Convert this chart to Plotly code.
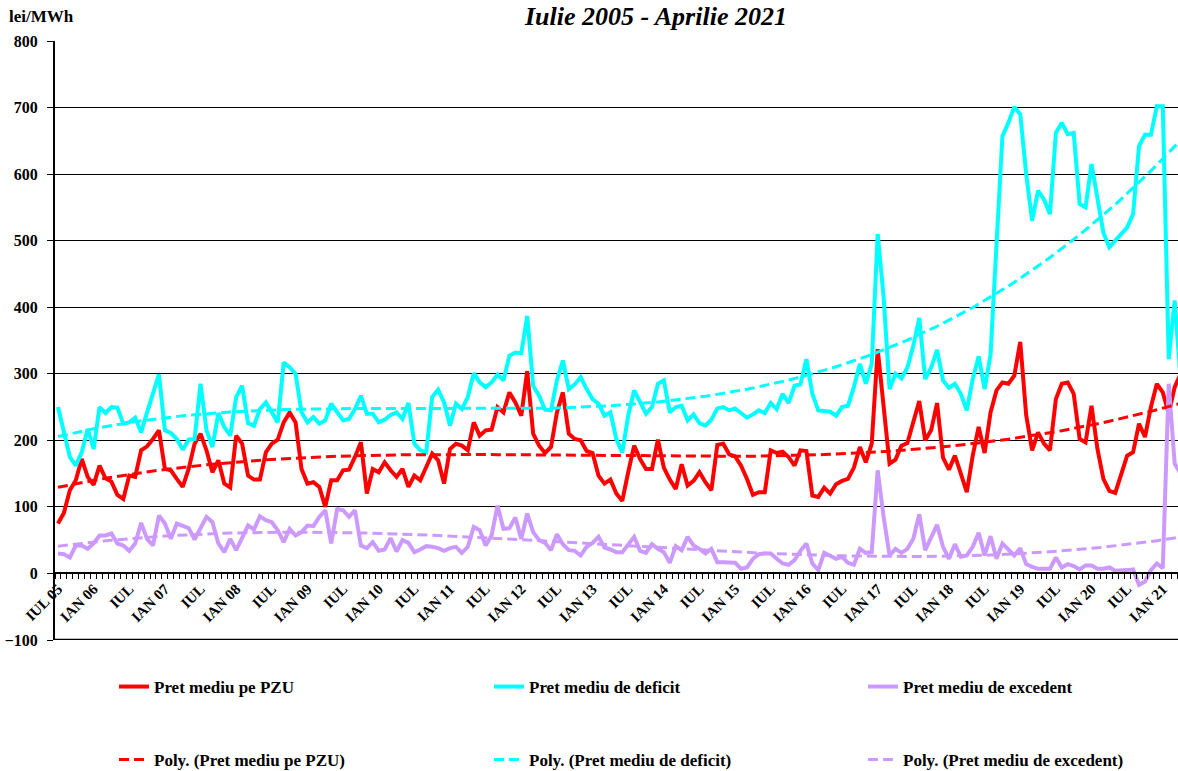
import numpy as np
import plotly.graph_objects as go

# Monthly values, Jul 2005 .. Apr 2021 (lei/MWh)
pzu = [75, 91, 125, 140, 172, 145, 133, 162, 143, 138, 118, 112, 147, 145, 185, 191, 202, 215, 157, 155,
       142, 130, 157, 195, 210, 185, 152, 170, 135, 129, 207, 195, 147, 141, 141, 182, 195, 201, 227, 242,
       227, 157, 135, 137, 130, 100, 140, 140, 155, 156, 175, 197, 120, 157, 152, 167, 155, 145, 157, 130,
       147, 140, 160, 180, 170, 135, 187, 195, 192, 185, 227, 207, 215, 216, 250, 242, 272, 257, 237, 304,
       210, 192, 181, 190, 242, 272, 210, 202, 200, 184, 181, 147, 135, 141, 120, 109, 152, 192, 172, 157,
       157, 201, 159, 141, 127, 164, 132, 139, 152, 137, 125, 193, 195, 179, 176, 162, 142, 118, 122, 122,
       185, 181, 183, 175, 162, 185, 184, 117, 115, 129, 120, 134, 139, 142, 159, 190, 167, 195, 337, 255,
       165, 171, 192, 196, 226, 259, 200, 215, 256, 174, 156, 177, 150, 122, 177, 220, 181, 242, 275, 287,
       285, 297, 348, 238, 185, 212, 195, 185, 262, 285, 287, 270, 202, 197, 252, 187, 142, 124, 121, 150,
       177, 182, 225, 205, 250, 285, 272, 240, 280, 300]

deficit = [250, 210, 175, 162, 182, 217, 187, 250, 241, 250, 249, 225, 227, 234, 212, 242, 270, 299, 215, 211,
           202, 186, 201, 202, 285, 215, 190, 241, 220, 207, 265, 282, 226, 222, 247, 257, 242, 227, 317, 310,
           300, 242, 227, 235, 225, 230, 255, 242, 230, 232, 247, 267, 240, 240, 227, 231, 238, 242, 232, 256,
           195, 185, 182, 265, 276, 257, 222, 255, 247, 265, 301, 287, 280, 287, 299, 290, 327, 332, 331, 387,
           282, 267, 246, 245, 290, 320, 277, 284, 295, 277, 262, 255, 237, 242, 202, 182, 237, 275, 257, 240,
           250, 285, 290, 242, 250, 252, 230, 239, 226, 222, 231, 248, 250, 245, 248, 241, 234, 239, 245, 241,
           256, 247, 270, 256, 282, 284, 322, 270, 245, 244, 243, 237, 250, 252, 280, 315, 285, 315, 510, 415,
           277, 300, 293, 309, 342, 384, 292, 309, 336, 290, 279, 285, 270, 245, 292, 326, 277, 329, 495, 657,
           677, 701, 690, 600, 530, 575, 562, 540, 662, 677, 660, 662, 555, 550, 615, 560, 512, 490, 500, 512,
           520, 540, 642, 659, 659, 702, 702, 322, 410, 290]

excedent = [30, 29, 24, 42, 42, 37, 45, 57, 57, 60, 45, 42, 34, 45, 76, 52, 42, 87, 75, 52,
            75, 72, 68, 51, 67, 85, 77, 45, 32, 52, 35, 55, 72, 66, 86, 80, 77, 65, 47, 67,
            57, 62, 72, 71, 85, 95, 45, 97, 95, 85, 95, 42, 38, 47, 34, 36, 53, 33, 50, 46,
            32, 36, 41, 40, 38, 34, 38, 40, 31, 40, 70, 65, 42, 57, 102, 67, 68, 84, 52, 90,
            62, 50, 46, 35, 59, 44, 35, 34, 27, 40, 46, 55, 39, 36, 32, 32, 44, 55, 34, 31,
            44, 37, 32, 16, 41, 35, 55, 42, 37, 30, 37, 17, 17, 16, 16, 7, 9, 22, 29, 30,
            30, 22, 15, 13, 20, 34, 45, 15, 5, 31, 27, 22, 25, 16, 13, 37, 31, 32, 155, 85,
            27, 37, 31, 37, 52, 89, 35, 55, 73, 40, 22, 44, 25, 27, 40, 61, 27, 56, 22, 45,
            37, 27, 38, 14, 10, 7, 7, 7, 24, 9, 14, 11, 6, 12, 12, 7, 7, 9, 4, 4,
            5, 6, -17, -12, 5, 15, 8, 285, 165, 150]

tick_labels = ["IUL 05", "IAN 06", "IUL", "IAN 07", "IUL", "IAN 08", "IUL", "IAN 09", "IUL", "IAN 10",
               "IUL", "IAN 11", "IUL", "IAN 12", "IUL", "IAN 13", "IUL", "IAN 14", "IUL", "IAN 15",
               "IUL", "IAN 16", "IUL", "IAN 17", "IUL", "IAN 18", "IUL", "IAN 19", "IUL", "IAN 20",
               "IUL", "IAN 21"]

series_names = ["Pret mediu pe PZU", "Pret mediu de deficit", "Pret mediu de excedent"]
colors = ["#FF0000", "#00FFFF", "#CC99FF"]
poly_order = 3

FONT = "Liberation Serif, Times New Roman, serif"
x = np.arange(len(pzu))
tickvals = list(range(0, len(pzu), 6))[:len(tick_labels)]

fig = go.Figure()
all_series = [pzu, deficit, excedent]
for k, (name, ys, col) in enumerate(zip(series_names, all_series, colors)):
    fig.add_trace(go.Scatter(x=x, y=ys, mode="lines", name=name,
                             line=dict(color=col, width=4),
                             legend="legend" if k == 0 else "legend%d" % (k + 1)))
for k, (name, ys, col) in enumerate(zip(series_names, all_series, colors)):
    coef = np.polyfit(x, np.array(ys, dtype=float), poly_order)
    fig.add_trace(go.Scatter(x=x, y=np.polyval(coef, x), mode="lines",
                             name="Poly. (" + name + ")",
                             line=dict(color=col, width=3, dash="10px,5px"),
                             legend="legend%d" % (k + 4)))

tickfont = dict(family=FONT, size=16, color="black", weight="bold")
legfont = dict(family=FONT, size=17, color="black", weight="bold")
leg_x_px = [114, 489, 863]
leg_y_px = [687, 760]
legends = {}
n = 1
for ry in leg_y_px:
    for lx in leg_x_px:
        key = "legend" if n == 1 else "legend%d" % n
        legends[key] = dict(orientation="h", xref="container", yref="container",
                            x=lx / 1178, y=1 - ry / 771, xanchor="left", yanchor="middle",
                            font=legfont, bgcolor="rgba(0,0,0,0)", borderwidth=0)
        n += 1

fig.update_layout(
    width=1178, height=771,
    margin=dict(l=55, r=0, t=41, b=131, autoexpand=False),
    paper_bgcolor="white", plot_bgcolor="white",
    showlegend=True,
    xaxis=dict(range=[-0.5, 188.56], tickmode="array", tickvals=tickvals, ticktext=tick_labels,
               tickangle=-45, anchor="free", position=100 / 900, showline=True, linecolor="black",
               linewidth=2, ticks="", showgrid=False, zeroline=False, automargin=False,
               tickfont=dict(family=FONT, size=15, color="black", weight="bold"),
               minor=dict(tickmode="linear", tick0=-0.5, dtick=1, ticks="outside", ticklen=5,
                          tickcolor="black", tickwidth=1, showgrid=False)),
    yaxis=dict(range=[-100, 800], domain=[0, 1], tickmode="linear", tick0=0, dtick=100,
               showgrid=True, gridcolor="black", gridwidth=1, showline=True, linecolor="black",
               linewidth=2, ticks="outside", ticklen=6, tickcolor="black", zeroline=False,
               automargin=False, tickfont=tickfont, ticklabelstandoff=6),
    shapes=[dict(type="line", xref="paper", yref="y", x0=0, x1=1, y0=-100, y1=-100,
                 line=dict(color="black", width=2.5))],
    annotations=[
        dict(text="<b><i>Iulie 2005 - Aprilie 2021</i></b>", xref="paper", yref="paper",
             x=(655 - 55) / 1123, y=1 + (41 - 17) / 599, xanchor="center", yanchor="middle",
             showarrow=False, font=dict(family=FONT, size=26, color="black")),
        dict(text="<b>lei/MWh</b>", xref="paper", yref="paper",
             x=(7 - 55) / 1123, y=1 + (41 - 17) / 599, xanchor="left", yanchor="middle",
             showarrow=False, font=dict(family=FONT, size=17, color="black")),
    ],
    **legends,
)

fig.write_html("out.html", config={"displayModeBar": False},
               post_script="document.body.style.margin='0px';document.body.style.overflow='hidden';")
